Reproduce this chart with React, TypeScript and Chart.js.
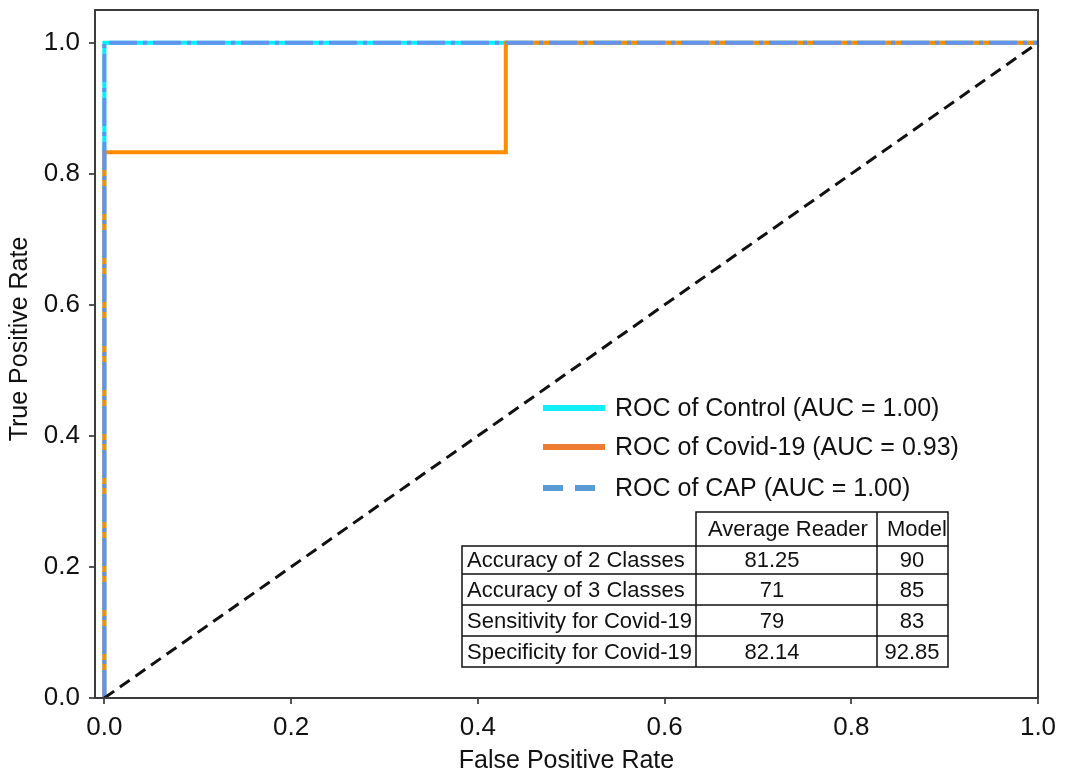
import React, { useEffect, useRef } from 'react';
import { Chart, registerables } from 'chart.js';

Chart.register(...registerables);

// ROC curve points (false positive rate / true positive rate)
const controlFpr = [0, 0, 1];
const controlTpr = [0, 1, 1];
const covidFpr = [0, 0, 0.43, 0.43, 1];
const covidTpr = [0, 0.833, 0.833, 1, 1];
const capFpr = [0, 0, 1];
const capTpr = [0, 1, 1];
const chanceFpr = [0, 1];
const chanceTpr = [0, 1];

const legendLabels = [
  'ROC of Control (AUC = 1.00)',
  'ROC of Covid-19 (AUC = 0.93)',
  'ROC of CAP (AUC = 1.00)',
];
const legendColors = ['#12EEF6', '#EE7D33', '#5B9BD5'];

const xTitle = 'False Positive Rate';
const yTitle = 'True Positive Rate';

const tableHeaders = ['Average Reader', 'Model'];
const tableMetrics = [
  'Accuracy of 2 Classes',
  'Accuracy of 3 Classes',
  'Sensitivity for Covid-19',
  'Specificity for Covid-19',
];
const readerValues = ['81.25', '71', '79', '82.14'];
const modelValues = ['90', '85', '83', '92.85'];

const FONT = "'Liberation Sans', Arial, Helvetica, sans-serif";

const pts = (xs: number[], ys: number[]) => xs.map((x, i) => ({ x, y: ys[i] }));

const overlayPlugin = {
  id: 'overlay',
  afterDatasetsDraw(chart: any) {
    const { ctx, chartArea } = chart;
    ctx.save();
    // frame
    ctx.strokeStyle = '#3c3c3c';
    ctx.lineWidth = 2;
    ctx.strokeRect(chartArea.left, chartArea.top, chartArea.right - chartArea.left, chartArea.bottom - chartArea.top);

    // y title
    ctx.save();
    ctx.translate(20, 339);
    ctx.rotate(-Math.PI / 2);
    ctx.font = `25px ${FONT}`;
    ctx.fillStyle = '#111';
    ctx.textAlign = 'center';
    ctx.textBaseline = 'middle';
    ctx.fillText(yTitle, 0, 0);
    ctx.restore();

    // legend
    const rowsY = [408, 447, 488];
    ctx.font = `25px ${FONT}`;
    ctx.textBaseline = 'middle';
    ctx.textAlign = 'left';
    legendLabels.forEach((lab, i) => {
      ctx.strokeStyle = legendColors[i];
      ctx.lineWidth = 6;
      ctx.lineCap = 'butt';
      ctx.setLineDash(i === 2 ? [20, 12] : []);
      ctx.beginPath();
      ctx.moveTo(543, rowsY[i]);
      ctx.lineTo(605, rowsY[i]);
      ctx.stroke();
      ctx.setLineDash([]);
      ctx.fillStyle = '#111';
      ctx.fillText(lab, 615, rowsY[i] + 1);
    });

    // table
    const L = 462, C1 = 696, C2 = 877, R = 948;
    const hTop = 512, bTop = 546;
    const rowEdges = [546, 574, 605, 636, 667];
    ctx.strokeStyle = '#111';
    ctx.lineWidth = 1.5;
    ctx.fillStyle = '#fff';
    ctx.fillRect(L, bTop, R - L, rowEdges[4] - bTop);
    ctx.fillRect(C1, hTop, R - C1, bTop - hTop);
    ctx.beginPath();
    ctx.rect(C1, hTop, R - C1, bTop - hTop);
    ctx.moveTo(C2, hTop); ctx.lineTo(C2, bTop);
    ctx.rect(L, bTop, R - L, rowEdges[4] - bTop);
    rowEdges.slice(1, 4).forEach((y) => { ctx.moveTo(L, y); ctx.lineTo(R, y); });
    ctx.moveTo(C1, bTop); ctx.lineTo(C1, rowEdges[4]);
    ctx.moveTo(C2, bTop); ctx.lineTo(C2, rowEdges[4]);
    ctx.stroke();

    ctx.fillStyle = '#111';
    ctx.font = `22px ${FONT}`;
    ctx.textAlign = 'center';
    ctx.fillText(tableHeaders[0], 788, (hTop + bTop) / 2 + 1);
    ctx.fillText(tableHeaders[1], 917, (hTop + bTop) / 2 + 1);
    tableMetrics.forEach((m, i) => {
      const cy = (rowEdges[i] + rowEdges[i + 1]) / 2 + 1;
      ctx.textAlign = 'left';
      ctx.fillText(m, 467, cy);
      ctx.textAlign = 'center';
      ctx.fillText(readerValues[i], 772, cy);
      ctx.fillText(modelValues[i], 912, cy);
    });
    ctx.restore();
  },
};

export default function App() {
  const ref = useRef<HTMLCanvasElement | null>(null);
  useEffect(() => {
    if (!ref.current) return;
    const chart = new Chart(ref.current, {
      type: 'scatter',
      data: {
        datasets: [
          {
            label: 'Chance',
            data: pts(chanceFpr, chanceTpr),
            showLine: true,
            borderColor: '#111',
            borderWidth: 3,
            borderDash: [12, 7],
            pointRadius: 0,
            order: 0,
          },
          {
            label: legendLabels[2],
            data: pts(capFpr, capTpr),
            showLine: true,
            borderColor: '#6293EE',
            borderWidth: 4,
            borderDash: [28, 6, 4, 6],
            borderCapStyle: 'butt',
            pointRadius: 0,
            order: 1,
          },
          {
            label: legendLabels[1],
            data: pts(covidFpr, covidTpr),
            showLine: true,
            borderColor: '#FF8C00',
            borderWidth: 4,
            pointRadius: 0,
            order: 2,
          },
          {
            label: legendLabels[0],
            data: pts(controlFpr, controlTpr),
            showLine: true,
            borderColor: '#00F2F8',
            borderWidth: 4,
            pointRadius: 0,
            order: 3,
          },
        ],
      },
      options: {
        animation: false,
        responsive: false,
        layout: { padding: { top: 10, right: 41, left: 0, bottom: 0 } },
        plugins: { legend: { display: false }, tooltip: { enabled: false } },
        scales: {
          x: {
            type: 'linear',
            min: -0.01,
            max: 1.0,
            border: { display: false },
            grid: { drawOnChartArea: false, drawTicks: true, tickLength: 6, color: '#555', lineWidth: 2 },
            ticks: {
              stepSize: 0.2,
              includeBounds: false,
              padding: 8,
              color: '#111',
              font: { family: FONT, size: 26 },
              maxRotation: 0,
              callback: (v: any) => Number(v).toFixed(1),
            },
            title: {
              display: true,
              text: xTitle,
              color: '#111',
              font: { family: FONT, size: 25 },
              padding: { top: 0, bottom: 0 },
            },
            afterFit: (s: any) => { s.height = 78; s.paddingLeft = 0; s.paddingRight = 0; },
          },
          y: {
            type: 'linear',
            min: 0,
            max: 1.05,
            border: { display: false },
            grid: { drawOnChartArea: false, drawTicks: true, tickLength: 6, color: '#555', lineWidth: 2 },
            ticks: {
              stepSize: 0.2,
              includeBounds: false,
              padding: 9,
              color: '#111',
              font: { family: FONT, size: 26 },
              callback: (v: any) => Number(v).toFixed(1),
            },
            title: { display: false },
            afterFit: (s: any) => { s.width = 95; s.paddingTop = 0; s.paddingBottom = 0; },
          },
        },
      },
      plugins: [overlayPlugin],
    });
    return () => chart.destroy();
  }, []);
  return (
    <div style={{ position: 'fixed', left: 0, top: 0, width: 1079, height: 776, background: '#fff' }}>
      <canvas ref={ref} width={1079} height={776} />
    </div>
  );
}
